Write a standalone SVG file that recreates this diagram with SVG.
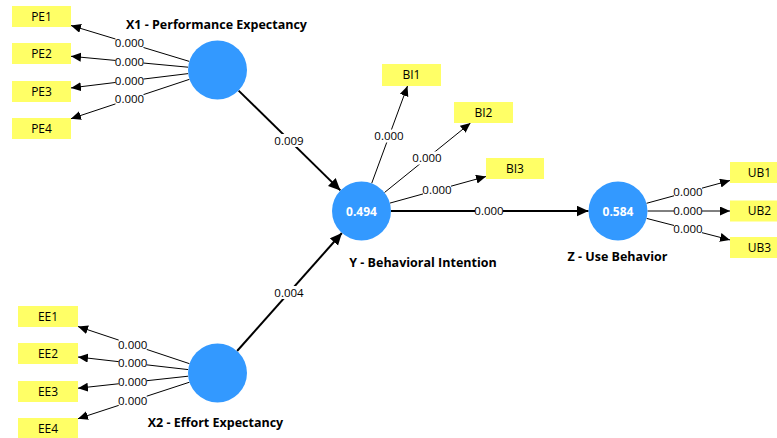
<svg xmlns="http://www.w3.org/2000/svg" width="777" height="438" viewBox="0 0 777 438">
<style>
.box{fill:#ffff66;}
.bt{font-family:"Open Sans","Noto Sans",sans-serif;font-size:12px;fill:#000;text-anchor:middle;}
.lv{fill:#3399ff;}
.lt{font-family:"Open Sans","Noto Sans",sans-serif;font-size:12px;font-weight:bold;fill:#fff;text-anchor:middle;}
.title{font-family:"Open Sans","Noto Sans",sans-serif;font-size:12.5px;font-weight:bold;fill:#000;text-anchor:middle;}
.thin{stroke:#000;stroke-width:1;fill:none;marker-end:url(#a1);}
.thick{stroke:#000;stroke-width:2;fill:none;marker-end:url(#a2);}
.lb{fill:#fff;}
.ltx{font-family:"Open Sans","Noto Sans",sans-serif;font-size:11.5px;fill:#000;text-anchor:middle;}
</style>
<defs>
<marker id="a1" markerUnits="userSpaceOnUse" markerWidth="12" markerHeight="10" refX="10" refY="4.5" orient="auto" viewBox="0 0 12 10"><path d="M0,0 L10,4.5 L0,9 Z" fill="#000"/></marker>
<marker id="a2" markerUnits="userSpaceOnUse" markerWidth="14" markerHeight="12" refX="12" refY="5.5" orient="auto" viewBox="0 0 14 12"><path d="M0,0 L12,5.5 L0,11 Z" fill="#000"/></marker>
</defs>
<g id="connectors">
<line class="thin" x1="189.3" y1="61.4" x2="71" y2="25.5"/>
<line class="thin" x1="188.1" y1="67.2" x2="71" y2="56.3"/>
<line class="thin" x1="188.2" y1="73.6" x2="71" y2="87.9"/>
<line class="thin" x1="189.5" y1="79.3" x2="71" y2="118.7"/>
<line class="thin" x1="189.5" y1="363.7" x2="78" y2="326.5"/>
<line class="thin" x1="188.2" y1="369.6" x2="78" y2="357"/>
<line class="thin" x1="188.2" y1="376.2" x2="78" y2="388.2"/>
<line class="thin" x1="189.5" y1="382.2" x2="78" y2="418.7"/>
<line class="thin" x1="371.7" y1="183.3" x2="407.5" y2="86"/>
<line class="thin" x1="384.5" y1="192.5" x2="470.5" y2="123"/>
<line class="thin" x1="389.9" y1="203.1" x2="486" y2="176.5"/>
<line class="thin" x1="646.5" y1="203.3" x2="730" y2="180.5"/>
<line class="thin" x1="647.5" y1="211" x2="730" y2="211"/>
<line class="thin" x1="646.6" y1="218.4" x2="730" y2="239.9"/>
<line class="thick" x1="238.6" y1="90.6" x2="340.4" y2="190.4"/>
<line class="thick" x1="237.1" y1="351" x2="341.9" y2="233"/>
<line class="thick" x1="391" y1="211" x2="588.5" y2="211"/>
<g id="labels">
<rect class="lb" x="115.5" y="36.5" width="28" height="13"/><text class="ltx" x="129.5" y="47.3">0.000</text>
<rect class="lb" x="115.5" y="55" width="28" height="13"/><text class="ltx" x="129.5" y="65.8">0.000</text>
<rect class="lb" x="115.5" y="74" width="28" height="13"/><text class="ltx" x="129.5" y="84.8">0.000</text>
<rect class="lb" x="115.5" y="92.5" width="28" height="13"/><text class="ltx" x="129.5" y="103.3">0.000</text>
<rect class="lb" x="118.7" y="338" width="28" height="13"/><text class="ltx" x="132.7" y="348.8">0.000</text>
<rect class="lb" x="118.7" y="356.5" width="28" height="13"/><text class="ltx" x="132.7" y="367.3">0.000</text>
<rect class="lb" x="118.7" y="375.5" width="28" height="13"/><text class="ltx" x="132.7" y="386.3">0.000</text>
<rect class="lb" x="118.7" y="394" width="28" height="13"/><text class="ltx" x="132.7" y="404.8">0.000</text>
<rect class="lb" x="375" y="129.5" width="28" height="13"/><text class="ltx" x="389" y="140.3">0.000</text>
<rect class="lb" x="413" y="151.5" width="28" height="13"/><text class="ltx" x="427" y="162.3">0.000</text>
<rect class="lb" x="423" y="183.5" width="28" height="13"/><text class="ltx" x="437" y="194.3">0.000</text>
<rect class="lb" x="475" y="204.5" width="28" height="13"/><text class="ltx" x="489" y="215.3">0.000</text>
<rect class="lb" x="674" y="185.5" width="28" height="13"/><text class="ltx" x="688" y="196.3">0.000</text>
<rect class="lb" x="674" y="204.5" width="28" height="13"/><text class="ltx" x="688" y="215.3">0.000</text>
<rect class="lb" x="674" y="222.5" width="28" height="13"/><text class="ltx" x="688" y="233.3">0.000</text>
<rect class="lb" x="275" y="134" width="28" height="13"/><text class="ltx" x="289" y="144.8">0.009</text>
<rect class="lb" x="275" y="286" width="28" height="13"/><text class="ltx" x="289" y="296.8">0.004</text>
</g>
</g>
<g id="PE1"><rect class="box" x="12" y="6" width="59" height="21"/><text class="bt" x="41.5" y="20.7">PE1</text></g>
<g id="PE2"><rect class="box" x="12" y="43" width="59" height="21"/><text class="bt" x="41.5" y="57.7">PE2</text></g>
<g id="PE3"><rect class="box" x="12" y="81" width="59" height="21"/><text class="bt" x="41.5" y="95.7">PE3</text></g>
<g id="PE4"><rect class="box" x="12" y="118" width="59" height="21"/><text class="bt" x="41.5" y="132.7">PE4</text></g>
<g id="EE1"><rect class="box" x="18" y="306" width="60" height="21"/><text class="bt" x="48" y="320.7">EE1</text></g>
<g id="EE2"><rect class="box" x="18" y="343" width="60" height="21"/><text class="bt" x="48" y="357.7">EE2</text></g>
<g id="EE3"><rect class="box" x="18" y="381" width="60" height="21"/><text class="bt" x="48" y="395.7">EE3</text></g>
<g id="EE4"><rect class="box" x="18" y="418" width="60" height="21"/><text class="bt" x="48" y="432.7">EE4</text></g>
<g id="BI1"><rect class="box" x="382" y="64" width="59" height="22"/><text class="bt" x="411.5" y="79.2">BI1</text></g>
<g id="BI2"><rect class="box" x="454" y="102" width="59" height="21"/><text class="bt" x="483.5" y="116.7">BI2</text></g>
<g id="BI3"><rect class="box" x="486" y="158" width="58" height="21"/><text class="bt" x="515" y="172.7">BI3</text></g>
<g id="UB1"><rect class="box" x="730" y="162" width="59" height="21"/><text class="bt" x="759.5" y="176.7">UB1</text></g>
<g id="UB2"><rect class="box" x="730" y="200.5" width="59" height="21"/><text class="bt" x="759.5" y="215.2">UB2</text></g>
<g id="UB3"><rect class="box" x="730" y="237" width="59" height="21"/><text class="bt" x="759.5" y="251.7">UB3</text></g>
<g id="X1"><circle class="lv" cx="217.5" cy="70" r="29.5"/><text class="title" x="216.5" y="28.5">X1 - Performance Expectancy</text></g>
<g id="X2"><circle class="lv" cx="217.5" cy="373" r="29.5"/><text class="title" x="215.5" y="426.5">X2 - Effort Expectancy</text></g>
<g id="Y"><circle class="lv" cx="361.5" cy="211" r="29.5"/><text class="lt" x="361.5" y="215.5">0.494</text><text class="title" x="423" y="266.5">Y - Behavioral Intention</text></g>
<g id="Z"><circle class="lv" cx="618" cy="211" r="29.5"/><text class="lt" x="618" y="215.5">0.584</text><text class="title" x="617.5" y="260.5">Z - Use Behavior</text></g>
</svg>
